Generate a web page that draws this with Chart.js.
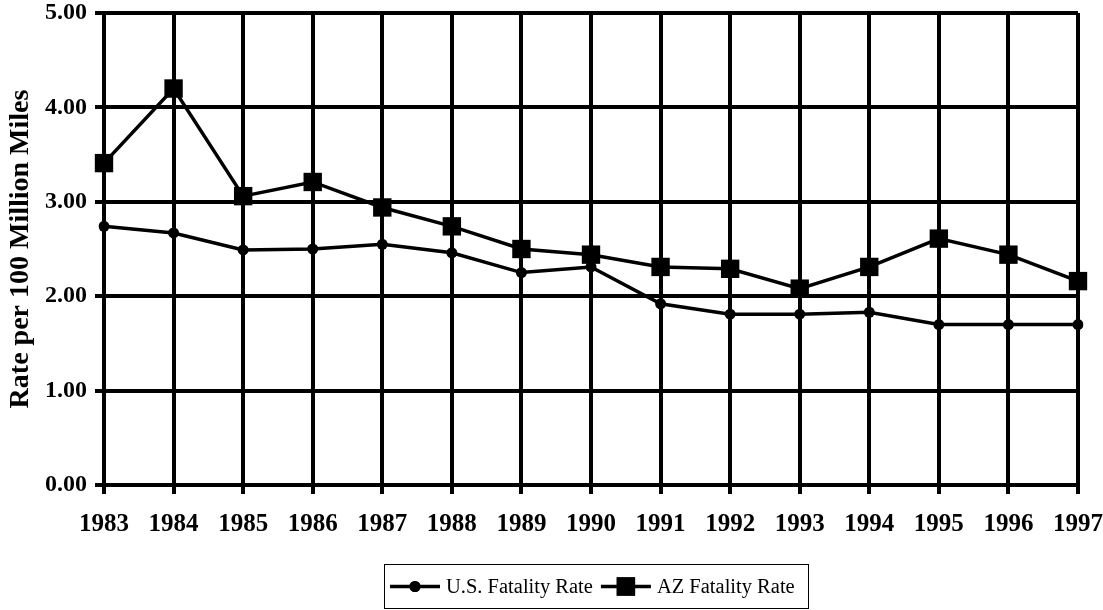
<!DOCTYPE html>
<html>
<head>
<meta charset="utf-8">
<script src="https://cdn.jsdelivr.net/npm/chart.js@4.4.1/dist/chart.umd.min.js"></script>
<style>
  html, body { margin: 0; padding: 0; background: #fff; }
  #wrap { width: 1103px; height: 610px; }
</style>
</head>
<body>
<div id="wrap"><canvas id="fatalityChart" width="1103" height="610"></canvas></div>
<script>
// values
const years  = ['1983', '1984', '1985', '1986', '1987', '1988', '1989', '1990', '1991', '1992', '1993', '1994', '1995', '1996', '1997'];
const usRate = [2.74, 2.67, 2.49, 2.50, 2.55, 2.46, 2.25, 2.31, 1.92, 1.81, 1.81, 1.83, 1.70, 1.70, 1.70];
const azRate = [3.41, 4.20, 3.06, 3.21, 2.94, 2.74, 2.50, 2.44, 2.31, 2.29, 2.08, 2.31, 2.61, 2.44, 2.16];
const yTicks = [0, 1, 2, 3, 4, 5];

const SERIF = '"Liberation Serif", "Times New Roman", serif';

// legend drawn under the plot: line + marker, like the old spreadsheet style
const boxLegend = {
  id: 'boxLegend',
  afterDraw(chart) {
    const ctx = chart.ctx;
    const box = { x: 384, y: 564, w: 424, h: 44 };
    const midY = box.y + box.h / 2 + 0.5;
    ctx.save();
    ctx.strokeStyle = '#000';
    ctx.lineWidth = 1;
    ctx.strokeRect(box.x + 0.5, box.y + 0.5, box.w, box.h);
    ctx.font = '20.5px ' + SERIF;
    ctx.textBaseline = 'middle';
    ctx.fillStyle = '#000';
    let x = box.x + 6;
    chart.data.datasets.forEach((ds) => {
      ctx.beginPath();
      ctx.lineWidth = 3.5;
      ctx.moveTo(x, midY);
      ctx.lineTo(x + 50, midY);
      ctx.stroke();
      Chart.helpers.drawPoint(ctx, {
        pointStyle: ds.pointStyle,
        radius: ds.pointRadius,
        borderWidth: 0,
      }, x + 25, midY);
      ctx.fill();
      x += 56;
      ctx.fillText(ds.label, x, midY + 1);
      x += ctx.measureText(ds.label).width + 8;
    });
    ctx.restore();
  },
};

const ctx = document.getElementById('fatalityChart');
new Chart(ctx, {
  type: 'line',
  data: {
    labels: years,
    datasets: [
      {
        label: 'U.S. Fatality Rate',
        data: usRate,
        borderColor: '#000',
        backgroundColor: '#000',
        borderWidth: 3.5,
        pointStyle: 'circle',
        pointRadius: 5.5,
        pointBorderWidth: 0,
        pointBackgroundColor: '#000',
        tension: 0,
      },
      {
        label: 'AZ Fatality Rate',
        data: azRate,
        borderColor: '#000',
        backgroundColor: '#000',
        borderWidth: 3.5,
        pointStyle: 'rect',
        pointRadius: 13,
        pointBorderWidth: 0,
        pointBackgroundColor: '#000',
        tension: 0,
      },
    ],
  },
  options: {
    responsive: false,
    animation: false,
    layout: { padding: { left: 0, top: 13, right: 25, bottom: 65 } },
    plugins: {
      legend: { display: false },
      tooltip: { enabled: false },
    },
    scales: {
      x: {
        offset: false,
        grid: { color: '#000', lineWidth: 4, tickLength: 9, tickColor: '#000' },
        border: { color: '#000', width: 4 },
        ticks: {
          color: '#000',
          padding: 16,
          maxRotation: 0,
          autoSkip: false,
          font: { family: SERIF, size: 25, weight: 'bold' },
        },
        afterFit(scale) {
          scale.height = 60;
          scale.paddingLeft = 0;
          scale.paddingRight = 0;
        },
      },
      y: {
        min: 0,
        max: 5,
        afterBuildTicks(scale) { scale.ticks = yTicks.map((v) => ({ value: v })); },
        grid: { color: '#000', lineWidth: 4, tickLength: 9, tickColor: '#000' },
        border: { color: '#000', width: 4 },
        ticks: {
          color: '#000',
          padding: 8,
          font: { family: SERIF, size: 24, weight: 'bold' },
          callback: (v) => Number(v).toFixed(2),
        },
        title: {
          display: true,
          text: 'Rate per 100 Million Miles',
          color: '#000',
          padding: { top: 4, bottom: 0 },
          font: { family: SERIF, size: 28, weight: 'bold' },
        },
        afterFit(scale) {
          scale.width = 104;
          scale.paddingTop = 0;
          scale.paddingBottom = 0;
        },
      },
    },
  },
  plugins: [boxLegend],
});
</script>
</body>
</html>
